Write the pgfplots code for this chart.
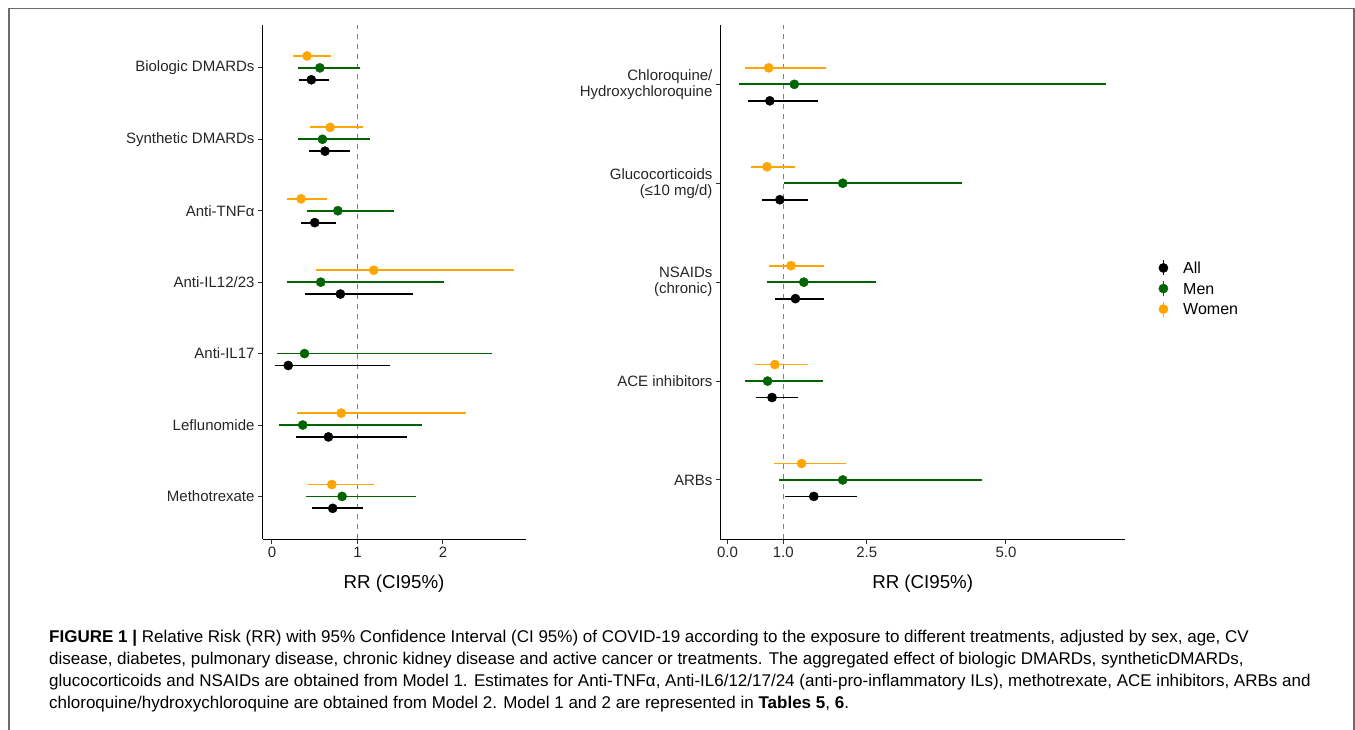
\documentclass[border=0pt]{standalone}
\usepackage{pgfplots}
\pgfplotsset{compat=1.18}
\usepackage{pgfplotstable}
\usepackage{fontspec}
\setmainfont{Liberation Sans}

\definecolor{ggorange}{HTML}{FFA500}
\definecolor{gggreen}{HTML}{006400}
\definecolor{framegray}{HTML}{6B6B6B}

% left panel: 1 Methotrexate ... 7 Biologic DMARDs
\pgfplotstableread{
pos rr lo hi
1 0.71 0.47 1.07
2 0.66 0.28 1.58
3 0.19 0.04 1.38
4 0.80 0.39 1.65
5 0.50 0.34 0.75
6 0.62 0.43 0.91
7 0.46 0.32 0.67
}\leftall
\pgfplotstableread{
pos rr lo hi
1 0.82 0.40 1.68
2 0.36 0.08 1.75
3 0.38 0.06 2.57
4 0.57 0.17 2.01
5 0.77 0.41 1.43
6 0.59 0.31 1.15
7 0.56 0.31 1.03
}\leftmen
\pgfplotstableread{
pos rr lo hi
1 0.70 0.42 1.19
2 0.81 0.29 2.27
4 1.19 0.51 2.83
5 0.34 0.18 0.64
6 0.68 0.44 1.07
7 0.41 0.24 0.69
}\leftwomen

% right panel: 1 ARBs ... 5 Chloroquine
\pgfplotstableread{
pos rr lo hi
1 1.55 1.04 2.33
2 0.80 0.51 1.27
3 1.22 0.85 1.74
4 0.94 0.62 1.44
5 0.76 0.36 1.62
}\rightall
\pgfplotstableread{
pos rr lo hi
1 2.07 0.93 4.57
2 0.72 0.31 1.71
3 1.37 0.71 2.67
4 2.07 1.01 4.21
5 1.20 0.21 6.80
}\rightmen
\pgfplotstableread{
pos rr lo hi
1 1.33 0.83 2.13
2 0.85 0.50 1.44
3 1.14 0.74 1.74
4 0.71 0.43 1.22
5 0.74 0.31 1.76
}\rightwomen

\pgfplotsset{
  forest/.style={
    scale only axis,
    axis lines=left,
    axis line style={-, line width=1.2pt, black},
    tick align=outside,
    major tick length=4.5pt,
    tick style={line width=1pt, black!80},
    ticklabel style={font=\fontsize{15}{16}\selectfont, text=black!85},
    yticklabel style={align=right},
    every axis x label/.style={at={(axis description cs:0.5,-0.0947)}, anchor=base,
      font=\fontsize{18.7}{20}\selectfont},
    xlabel={RR (CI95\%)},
  },
  ci/.style={
    forget plot, only marks, mark=*, mark size=4.6pt, color=#1,
    mark options={draw=none, fill=#1},
    error bars/x dir=both, error bars/x explicit, error bars/error mark=none,
    error bars/error bar style={line width=1.8pt, color=#1},
  },
  refline/.style={forget plot, gray, line width=1pt, dash pattern=on 5.5pt off 4.5pt},
}

\begin{document}
\begin{tikzpicture}
\useasboundingbox (0pt,0pt) rectangle (1355pt,-730pt);
\draw[framegray, line width=1.3pt] (9pt,-730pt) -- (9pt,-8.5pt) -- (1354pt,-8.5pt) -- (1354pt,-730pt);

\begin{axis}[forest,
  at={(262.5pt,-539.3pt)}, anchor=south west,
  width=263pt, height=514.3pt,
  xmin=-0.111, xmax=2.965, ymin=0.4, ymax=7.6,
  xtick={0,1,2}, xticklabels={0,1,2},
  ytick={1,2,3,4,5,6,7},
  yticklabels={Methotrexate, Leflunomide, Anti-IL17, Anti-IL12/23, Anti-TNFα, Synthetic DMARDs, Biologic DMARDs},
]
\addplot[refline] coordinates {(1,0.4) (1,7.6)};
\addplot[ci=ggorange] table[x=rr, y expr=\thisrow{pos}+0.1667,
  x error plus expr=\thisrow{hi}-\thisrow{rr}, x error minus expr=\thisrow{rr}-\thisrow{lo}] {\leftwomen};
\addplot[ci=gggreen] table[x=rr, y=pos,
  x error plus expr=\thisrow{hi}-\thisrow{rr}, x error minus expr=\thisrow{rr}-\thisrow{lo}] {\leftmen};
\addplot[ci=black] table[x=rr, y expr=\thisrow{pos}-0.1667,
  x error plus expr=\thisrow{hi}-\thisrow{rr}, x error minus expr=\thisrow{rr}-\thisrow{lo}] {\leftall};
\end{axis}

\begin{axis}[forest,
  at={(720.4pt,-539.3pt)}, anchor=south west,
  width=404.6pt, height=514.3pt,
  xmin=-0.127, xmax=7.137, ymin=0.4, ymax=5.6,
  xtick={0,1,2.5,5}, xticklabels={0.0,1.0,2.5,5.0},
  ytick={1,2,3,4,5},
  yticklabels={ARBs, ACE inhibitors, {NSAIDs\\(chronic)}, {Glucocorticoids\\(≤10 mg/d)}, {Chloroquine/\\Hydroxychloroquine}},
  legend image code/.code={
    \draw[#1, line width=1.5pt] (0pt,-7.5pt) -- (0pt,7.5pt);
    \fill[#1] (0pt,0pt) circle (4.6pt);
  },
  legend cell align=left,
  legend style={at={(1.0826,0.4876)}, anchor=west, draw=none, fill=none,
    inner sep=0pt, row sep=4.1pt, column sep=15pt,
    font=\fontsize{16}{18}\selectfont,
    nodes={inner sep=0pt, text height=13pt, text depth=2pt}},
]
\addlegendimage{black}
\addlegendentry{All}
\addlegendimage{gggreen}
\addlegendentry{Men}
\addlegendimage{ggorange}
\addlegendentry{Women}
\addplot[refline] coordinates {(1,0.4) (1,5.6)};
\addplot[ci=ggorange] table[x=rr, y expr=\thisrow{pos}+0.1667,
  x error plus expr=\thisrow{hi}-\thisrow{rr}, x error minus expr=\thisrow{rr}-\thisrow{lo}] {\rightwomen};
\addplot[ci=gggreen] table[x=rr, y=pos,
  x error plus expr=\thisrow{hi}-\thisrow{rr}, x error minus expr=\thisrow{rr}-\thisrow{lo}] {\rightmen};
\addplot[ci=black] table[x=rr, y expr=\thisrow{pos}-0.1667,
  x error plus expr=\thisrow{hi}-\thisrow{rr}, x error minus expr=\thisrow{rr}-\thisrow{lo}] {\rightall};
\end{axis}

\begin{scope}[every node/.style={anchor=base west, inner sep=0pt, font=\fontsize{17}{20}\selectfont}]
\node at (49pt,-642pt) {\textbf{FIGURE 1 |} Relative Risk (RR) with 95\% Confidence Interval (CI 95\%) of COVID-19 according to the exposure to different treatments, adjusted by sex, age, CV};
\node at (49pt,-664pt) {disease, diabetes, pulmonary disease, chronic kidney disease and active cancer or treatments. The aggregated effect of biologic DMARDs, syntheticDMARDs,};
\node at (49pt,-686pt) {glucocorticoids and NSAIDs are obtained from Model 1. Estimates for Anti-TNFα, Anti-IL6/12/17/24 (anti-pro-inflammatory ILs), methotrexate, ACE inhibitors, ARBs and};
\node at (49pt,-708pt) {chloroquine/hydroxychloroquine are obtained from Model 2. Model 1 and 2 are represented in \textbf{Tables 5}, \textbf{6}.};
\end{scope}
\end{tikzpicture}
\end{document}
